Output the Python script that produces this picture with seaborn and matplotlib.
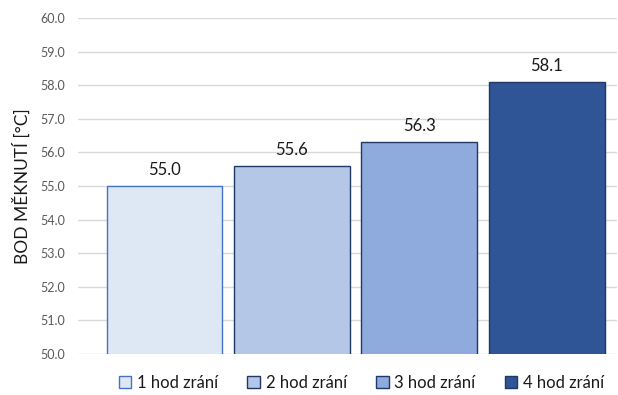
import matplotlib
matplotlib.use("Agg")
import matplotlib.pyplot as plt
import seaborn as sns
import pandas as pd
from matplotlib.patches import Patch

categories = ["1 hod zrání", "2 hod zrání", "3 hod zrání", "4 hod zrání"]
values = [55.0, 55.6, 56.3, 58.1]
fill_colors = ["#DEE8F5", "#B4C7E7", "#8FAADC", "#2F5597"]
edge_colors = ["#4472C4", "#1F3864", "#1F3864", "#1F3864"]
y_ticks = [50.0, 51.0, 52.0, 53.0, 54.0, 55.0, 56.0, 57.0, 58.0, 59.0, 60.0]

sns.set_theme(style="white")
plt.rcParams["font.family"] = ["Lato", "DejaVu Sans"]

df = pd.DataFrame({"kategorie": categories, "hodnota": values})

fig = plt.figure(figsize=(6.18, 3.95), dpi=100)
ax = fig.add_axes([0.126, 0.104, 0.872, 0.850])

sns.barplot(data=df, x="kategorie", y="hodnota", hue="kategorie",
            palette=fill_colors, saturation=1, width=0.91, legend=False,
            ax=ax, zorder=3)

for patch, ec in zip(ax.patches, edge_colors):
    patch.set_edgecolor(ec)
    patch.set_linewidth(1.0)

for cont in ax.containers:
    ax.bar_label(cont, fmt="%.1f", padding=6, fontsize=12, color="#1a1a1a")

ax.set_ylim(50, 60)
ax.set_xlim(-0.68, 3.55)
ax.set_yticks(y_ticks)
ax.set_yticklabels([f"{t:.1f}" for t in y_ticks], fontsize=9, color="#595959")
ax.tick_params(axis="y", length=0, pad=9)
ax.set_xticks([])
ax.set_xlabel("")
ax.set_ylabel("BOD MĚKNUTÍ [°C]", fontsize=12.5, color="#1a1a1a", labelpad=7)
ax.grid(axis="y", color="#D9D9D9", linewidth=1.0, zorder=0)
for s in ax.spines.values():
    s.set_visible(False)

handles = [Patch(facecolor=f, edgecolor=e, linewidth=1.0) for f, e in zip(fill_colors, edge_colors)]
fig.legend(handles, categories, loc="center", bbox_to_anchor=(0.585, 0.03), ncol=4,
           frameon=False, fontsize=12, handlelength=0.75, handleheight=0.75,
           handletextpad=0.35, columnspacing=1.75, labelcolor="#1a1a1a")

fig.savefig("out.png", dpi=100)
